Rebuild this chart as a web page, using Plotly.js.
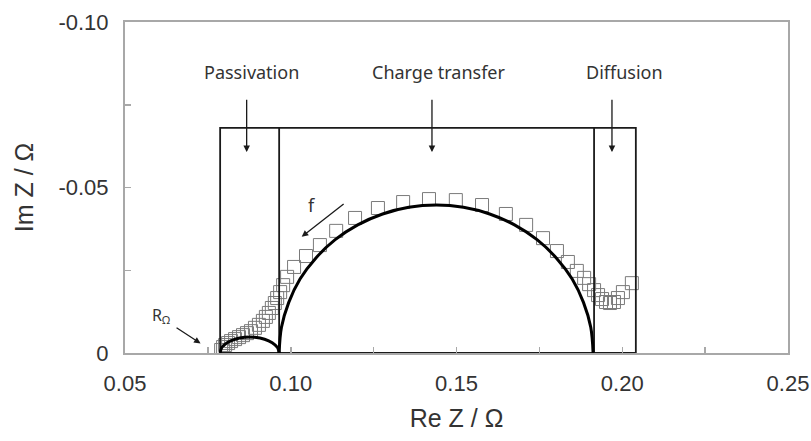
<!DOCTYPE html>
<html>
<head>
<meta charset="utf-8">
<script src="https://cdn.plot.ly/plotly-3.0.1.min.js"></script>
<style>html,body{margin:0;padding:0;background:#fff;}#chart{width:811px;height:441px;}</style>
</head>
<body>
<div id="chart"></div>
<script>
// Measured impedance (Re Z, Im Z) in ohm
var reZ = [0.0790,0.0796,0.0802,0.0811,0.0820,0.0832,0.0844,0.0856,0.0868,0.0880,
           0.0892,0.0904,0.0916,0.0925,0.0934,0.0943,0.0952,0.0959,0.0968,0.0977,
           0.0989,0.1010,0.1046,0.1088,0.1137,0.1194,0.1263,0.1339,0.1417,0.1498,
           0.1577,0.1649,0.1710,0.1761,0.1803,0.1836,0.1863,0.1885,0.1900,0.1915,
           0.1927,0.1939,0.1951,0.1963,0.1975,0.1987,0.2002,0.2029];
var imZ = [-0.0009,-0.0018,-0.0024,-0.0030,-0.0036,-0.0042,-0.0048,-0.0054,-0.0060,-0.0066,
           -0.0076,-0.0085,-0.0097,-0.0109,-0.0121,-0.0136,-0.0151,-0.0166,-0.0184,-0.0205,
           -0.0230,-0.0260,-0.0293,-0.0326,-0.0369,-0.0408,-0.0438,-0.0456,-0.0465,-0.0462,
           -0.0447,-0.0420,-0.0387,-0.0347,-0.0308,-0.0275,-0.0248,-0.0227,-0.0208,-0.0190,
           -0.0175,-0.0163,-0.0154,-0.0151,-0.0154,-0.0166,-0.0184,-0.0211];

// Fitted passivation arc
var passX = [0.0787,0.0792,0.0808,0.0832,0.0861,0.0891,0.0921,0.0944,0.0960,0.0965];
var passY = [0,-0.00164,-0.00309,-0.00416,-0.00473,-0.00473,-0.00416,-0.00309,-0.00164,0];

// Fitted charge-transfer arc
var ctX = [0.0965,0.0972,0.0994,0.1028,0.1076,0.1134,0.1202,0.1277,0.1356,0.1439,
           0.1521,0.1600,0.1675,0.1743,0.1801,0.1849,0.1883,0.1905,0.1912];
var ctY = [0,-0.00776,-0.01529,-0.02235,-0.02873,-0.03424,-0.03871,-0.04200,-0.04402,-0.0447,
           -0.04402,-0.04200,-0.03871,-0.03424,-0.02873,-0.02235,-0.01529,-0.00776,0];

// Region box and dividers
var boxX = [0.0787,0.0787,0.2041,0.2041,0.0787];
var boxY = [0,-0.068,-0.068,0,0];
var divX = [0.0965,0.0965,null,0.1915,0.1915];
var divY = [0,-0.068,null,0,-0.068];

// Region labels
var regionNames = ['Passivation','Charge transfer','Diffusion'];
var regionLabelX = [0.0883,0.1447,0.2008];
var regionArrowX = [0.0867,0.1426,0.1969];

// Tick labels
var xTickVals = [0.05,0.10,0.15,0.20,0.25];
var xTickText = ['0.05','0.10','0.15','0.20','0.25'];
var xMinorVals = [0.075,0.125,0.175,0.225];
var yTickVals = [0,-0.05,-0.10];
var yTickText = ['0','-0.05','-0.10'];
var yMinorVals = [-0.025,-0.075];

var ink = '#1a1a1a';
var traces = [
  {x: reZ, y: imZ, mode: 'markers', type: 'scatter',
   marker: {symbol: 'square-open', size: 13, color: '#7a7a7a', line: {color: '#7a7a7a', width: 1}},
   hoverinfo: 'skip'},
  {x: boxX, y: boxY, mode: 'lines', type: 'scatter', line: {color: ink, width: 1.8}},
  {x: divX, y: divY, mode: 'lines', type: 'scatter', line: {color: ink, width: 1.8}},
  {x: passX, y: passY, mode: 'lines', type: 'scatter', line: {color: '#000', width: 3, shape: 'spline'}},
  {x: ctX, y: ctY, mode: 'lines', type: 'scatter', line: {color: '#000', width: 3, shape: 'spline'}}
];

var annFont = {family: 'Noto Sans, Open Sans, sans-serif', size: 18, color: '#333'};
var annotations = [];
for (var i = 0; i < regionNames.length; i++) {
  annotations.push({x: regionLabelX[i], y: -0.0849, xref: 'x', yref: 'y', text: regionNames[i],
    showarrow: false, font: annFont});
  annotations.push({x: regionArrowX[i], y: -0.0607, ax: regionArrowX[i], ay: -0.0770,
    xref: 'x', yref: 'y', axref: 'x', ayref: 'y', text: '', showarrow: true,
    arrowhead: 2, arrowsize: 1, arrowwidth: 1.3, arrowcolor: ink, standoff: 0, startstandoff: 0});
}
annotations.push({x: 0.0609, y: -0.0112, xref: 'x', yref: 'y', text: 'R<sub>Ω</sub>',
  showarrow: false, font: {family: 'Noto Sans, sans-serif', size: 16, color: '#333'}});
annotations.push({x: 0.0728, y: -0.0029, ax: 0.0651, ay: -0.0079, xref: 'x', yref: 'y', axref: 'x', ayref: 'y',
  text: '', showarrow: true, arrowhead: 2, arrowsize: 1, arrowwidth: 1.3, arrowcolor: ink, standoff: 0});
annotations.push({x: 0.1063, y: -0.0447, xref: 'x', yref: 'y', text: 'f',
  showarrow: false, font: {family: 'Noto Sans, sans-serif', size: 18, color: '#333'}});
annotations.push({x: 0.1033, y: -0.0351, ax: 0.1164, ay: -0.0454, xref: 'x', yref: 'y', axref: 'x', ayref: 'y',
  text: '', showarrow: true, arrowhead: 2, arrowsize: 1, arrowwidth: 1.3, arrowcolor: ink, standoff: 0});

var axisCommon = {
  showline: true, mirror: true, linecolor: '#a8a8a8', linewidth: 2,
  ticks: 'inside', ticklen: 6, tickwidth: 1.5, tickcolor: '#a8a8a8',
  showgrid: false, zeroline: false, tickmode: 'array',
  tickfont: {family: 'Liberation Sans, Arial, sans-serif', size: 22, color: '#333'}
};
var layout = {
  width: 811, height: 441,
  margin: {l: 125, r: 23, t: 22, b: 88},
  paper_bgcolor: '#fff', plot_bgcolor: '#fff',
  showlegend: false,
  xaxis: Object.assign({}, axisCommon, {range: [0.05, 0.25], tickvals: xTickVals, ticktext: xTickText,
    ticklabelstandoff: 10,
    minor: {tickmode: 'array', tickvals: xMinorVals, ticks: 'inside', ticklen: 6, tickwidth: 1.5, tickcolor: '#a8a8a8', showgrid: false},
    title: {text: 'Re Z / Ω', font: {family: 'Liberation Sans, Arial, sans-serif', size: 25, color: '#333'}, standoff: 14}}),
  yaxis: Object.assign({}, axisCommon, {range: [0, -0.10], tickvals: yTickVals, ticktext: yTickText,
    ticklabelstandoff: 10,
    minor: {tickmode: 'array', tickvals: yMinorVals, ticks: 'inside', ticklen: 6, tickwidth: 1.5, tickcolor: '#a8a8a8', showgrid: false},
    title: {text: 'Im Z / Ω', font: {family: 'Liberation Sans, Arial, sans-serif', size: 25, color: '#333'}, standoff: 18}}),
  annotations: annotations
};
Plotly.newPlot('chart', traces, layout, {staticPlot: true, displayModeBar: false});
</script>
</body>
</html>
